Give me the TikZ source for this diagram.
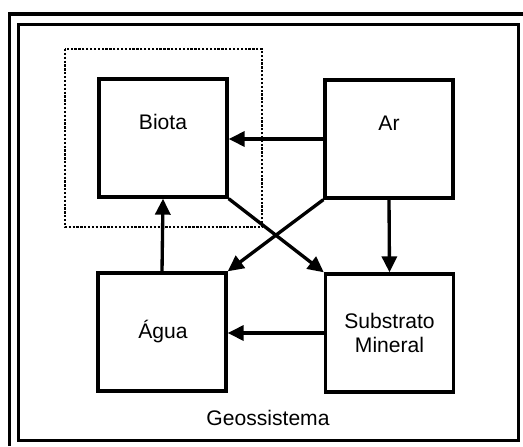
\documentclass[tikz,border=0pt]{standalone}
\usepackage{fontspec}
\setmainfont{Liberation Sans}
\usetikzlibrary{arrows.meta}

\begin{document}
\begin{tikzpicture}
[
	box/.style={draw,line width=1.9pt,minimum width=2.56cm,minimum height=2.36cm,inner sep=0pt},
	txt/.style={font=\fontsize{12}{14}\selectfont,align=center,inner sep=0pt},
	arr/.style={line width=1.9pt,-{Triangle[length=0.32cm,width=0.3cm]}},
	frame/.style={line width=1.9pt},
	x=0.02cm,
	y=-0.02cm
]

	\useasboundingbox (0,0) rectangle (523,446);

	% frames
	\draw[frame] (9.5,446) -- (9.5,14) -- (523,14);
	\draw[frame] (18.5,24.5) rectangle (518.5,440.5);

	% dotted region round Biota
	\draw[line width=1.4pt,dash pattern=on 1.3pt off 0.9pt] (65,49) rectangle (262,227);

	% boxes
	\node[box] at (163,138) (biota) {};
	\node[box] at (389,139) (ar) {};
	\node[box] at (162,332) (agua) {};
	\node[box] at (389.5,333) (substrato) {};

	% labels
	\node[txt] at (163,122) (tbiota) {Biota};
	\node[txt] at (389,123) (tar) {Ar};
	\node[txt] at (163,332) (tagua) {Água};
	\node[txt] at (389.5,333) (tsubstrato) {Substrato\\Mineral};
	\node[txt] at (268,418) (tgeo) {Geossistema};

	% flows
	\draw[arr] (ar.west) -- (ar.west -| biota.east);
	\draw[arr] (ar.south) -- (substrato.north);
	\draw[arr] (substrato.west) -- (substrato.west -| agua.east);
	\draw[arr] (agua.north) -- (biota.south);
	\draw[arr] (biota.south east) -- (substrato.north west);
	\draw[arr] (ar.south west) -- (agua.north east);

\end{tikzpicture}
\end{document}
